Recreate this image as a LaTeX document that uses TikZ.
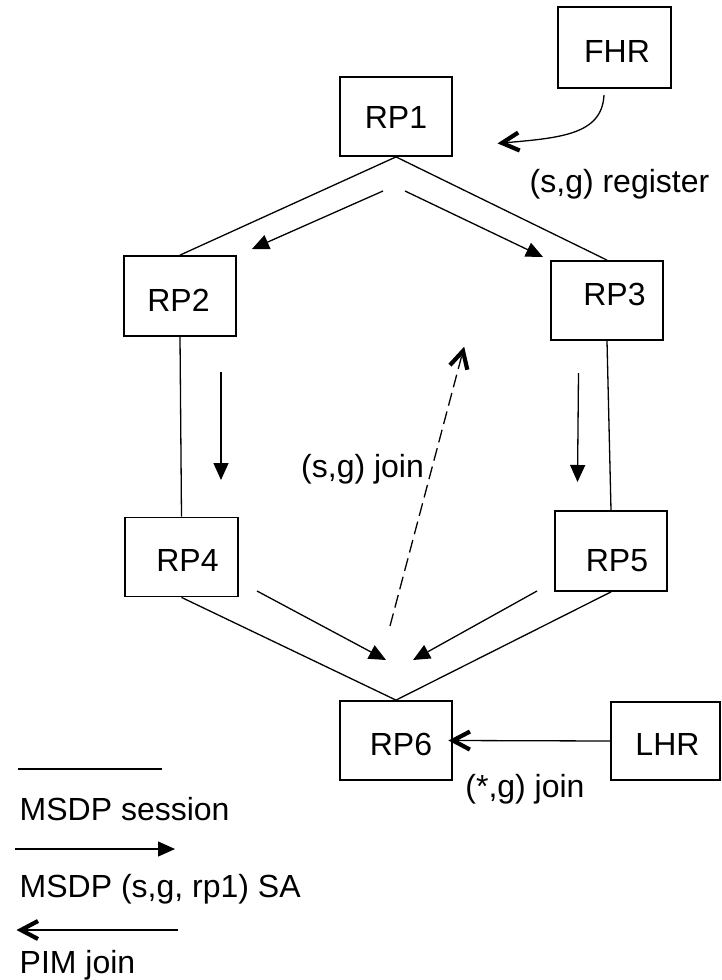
\documentclass[tikz,border=0pt]{standalone}
\usepackage{fontspec}
\setmainfont{Liberation Sans}
\usetikzlibrary{arrows.meta,calc}
\newcommand\pimtip[2]{%
  \coordinate (bk) at ($(#1)!17pt!(#2)$);
  \draw[chev] ($(bk)!9pt!90:(#1)$) -- (#1) -- ($(bk)!9pt!-90:(#1)$);}
\begin{document}
\begin{tikzpicture}[x=1pt,y=-1pt,
  box/.style={draw, line width=1.8pt, minimum width=112pt, minimum height=80pt, inner sep=0pt},
  lbl/.style={font=\fontsize{32}{36}\selectfont, inner sep=0pt, anchor=base},
  sess/.style={line width=1.3pt},
  sa/.style={line width=1.3pt, -{Triangle[length=17pt,width=15pt]}},
  pim/.style={line width=1.3pt},
  chev/.style={line width=4.2pt, line cap=butt, line join=miter},
  dsh/.style={dash pattern=on 13pt off 6pt}
]
\useasboundingbox (0,0) rectangle (721,980);

% boxes
\node[box, minimum width=113pt, minimum height=81pt] (fhr) at (614.5,47.5) {};
\node[box, minimum height=79pt] (rp1) at (396,116.5) {};
\node[box] (rp2) at (180,296) {};
\node[box, minimum height=79pt] (rp3) at (607,300.5) {};
\node[box, minimum width=113pt, minimum height=79pt] (rp4) at (181.5,557) {};
\node[box] (rp5) at (611,551) {};
\node[box, minimum height=79pt] (rp6) at (396,740.5) {};
\node[box, minimum width=109pt, minimum height=78pt] (lhr) at (665.5,741) {};

% box texts
\node[lbl] (fhrt) at (617,62) {FHR};
\node[lbl] (rp1t) at (396,128) {RP1};
\node[lbl] (rp2t) at (178.5,311) {RP2};
\node[lbl] (rp3t) at (614.5,305) {RP3};
\node[lbl] (rp4t) at (187.5,571) {RP4};
\node[lbl] (rp5t) at (617,571) {RP5};
\node[lbl] (rp6t) at (401,755) {RP6};
\node[lbl] (lhrt) at (667.5,755) {LHR};

% MSDP sessions
\draw[sess] (rp1.south) -- (rp2.north);
\draw[sess] (rp1.south) -- (rp3.north);
\draw[sess] (rp2.south) -- (rp4.north);
\draw[sess] (rp3.south) -- (rp5.north);
\draw[sess] (rp4.south) -- (rp6.north);
\draw[sess] (rp5.south) -- (rp6.north);

% SA arrows
\coordinate (a12s) at (383,191); \coordinate (a12e) at (252,249);
\coordinate (a13s) at (405,191); \coordinate (a13e) at (543,257);
\coordinate (a24s) at (221,372); \coordinate (a24e) at (221,480);
\coordinate (a35s) at (578.5,373); \coordinate (a35e) at (577.5,482);
\coordinate (a46s) at (257,591); \coordinate (a46e) at (386,660);
\coordinate (a56s) at (537,591); \coordinate (a56e) at (413,660);
\draw[sa] (a12s) -- (a12e);
\draw[sa] (a13s) -- (a13e);
\draw[sa] (a24s) -- (a24e);
\draw[sa] (a35s) -- (a35e);
\draw[sa] (a46s) -- (a46e);
\draw[sa] (a56s) -- (a56e);

% (s,g) join dashed
\coordinate (js) at (390,626); \coordinate (je) at (463,351);
\draw[pim, dsh] (js) -- (je);
\pimtip{je}{js}
\node[lbl, anchor=base west] (sgjoin) at (301,477) {(s,g) join};

% FHR register
\coordinate (rs) at (604,95); \coordinate (rc) at (560,138); \coordinate (re) at (502,143);
\draw[pim] (rs) .. controls (602,135) and (rc) .. (re);
\pimtip{re}{rc}
\node[lbl] (sgreg) at (619.5,192) {(s,g) register};

% LHR join
\draw[pim] (lhr.west) -- (rp6.east);
\pimtip{rp6.east}{lhr.west}
\node[lbl] (stargjoin) at (525,797) {(*,g) join};

% legend
\coordinate (l1s) at (18,769); \coordinate (l1e) at (162,769);
\draw[sess] (l1s) -- (l1e);
\node[lbl, anchor=base west] (leg1) at (19.5,820) {MSDP session};
\coordinate (l2s) at (15,849); \coordinate (l2e) at (175,849);
\draw[sa] (l2s) -- (l2e);
\node[lbl, anchor=base west] (leg2) at (19.5,897) {MSDP (s,g, rp1) SA};
\coordinate (l3s) at (178,930); \coordinate (l3e) at (21,930);
\draw[pim] (l3s) -- (l3e);
\pimtip{l3e}{l3s}
\node[lbl, anchor=base west] (leg3) at (19.5,973) {PIM join};
\end{tikzpicture}
\end{document}
